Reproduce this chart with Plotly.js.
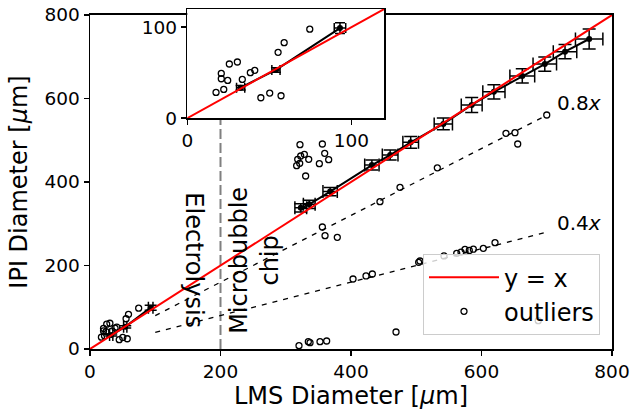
<!DOCTYPE html>
<html>
<head>
<meta charset="utf-8">
<script src="https://cdn.plot.ly/plotly-3.0.1.min.js"></script>
<style>html,body{margin:0;padding:0;background:#fff;}#chart{width:630px;height:410px;}</style>
</head>
<body>
<div id="chart"></div>
<script>
// Mean values (LMS vs IPI) with error bars: electrolysis set
const elecX = [32.5, 54, 93];
const elecY = [33.5, 53, 99];
const elecErrX = [2.5, 2.5, 3.5];
const elecErrY = [2.5, 2.5, 6];
// Mean values: microbubble chip set
const chipX = [323, 336, 368, 432, 460, 491.5, 541.5, 585, 619, 662.5, 697, 728, 765];
const chipY = [338, 346.5, 377, 440.5, 464.5, 495, 539, 584.5, 616, 654, 682.5, 712, 742.5];
const chipErrX = [9, 9, 11, 11, 12, 12, 14, 16, 17, 19, 18, 18, 21];
const chipErrY = [10, 10, 10, 12, 12, 14, 14, 18, 17, 17, 17, 17, 24];

// Outliers
const outX = [17.5, 22.2, 20.7, 20.7, 24.6, 25.6, 30.5, 33.5, 38.4, 41.1, 44.8, 50.2, 57.1, 55.3, 59, 74.6,
  321.8, 356.1, 318.3, 322.9, 328.5, 335.2, 321.4, 316.7, 359.7, 365.8, 351.5, 330.5,
  356.1, 360.2, 379,
  444.4, 475.1, 532.3, 637.5, 651.3, 655.5, 700,
  403.1, 423, 432.7, 503.7, 505.7, 542.5, 562, 568.6, 574.7, 581.3, 587.5, 602.8, 620.7,
  469, 320.3, 334.6, 337.2, 352.5, 362.7, 687];
const outY = [28.3, 31.6, 43.3, 49.2, 41.5, 59.5, 61.7, 42.6, 50, 52.6, 22.4, 27.6, 24.6, 72.4, 83, 97.8,
  489.4, 491, 454.3, 462.3, 466.3, 454.3, 444.7, 439.1, 468.7, 453.5, 443.8, 414.4,
  292.2, 271.4, 267.5,
  352.8, 387.3, 434, 516.6, 518, 491, 560.5,
  167.7, 174.9, 179.6, 207.6, 210.8, 222.8, 229.2, 232, 238.8, 236, 239, 241.2, 254.6,
  40.7, 7.9, 17.5, 15.1, 17.5, 19.2, 67.8];

// Reference lines
const identityX = [0, 800];
const ratioSlopes = [0.8, 0.4];
const ratioLabels = ['0.8<i>x</i>', '0.4<i>x</i>'];
const ratioLabelY = [590, 302.5];
const ratioStart = 100, ratioEnd = 700;
const boundaryX = 200;
const axisTicks = [0, 200, 400, 600, 800];
const insetTicks = [0, 100];

const FONT = 'DejaVu Sans, Liberation Sans, sans-serif';
const traces = [];

// vertical boundary
traces.push({x: [boundaryX, boundaryX], y: [0, 800], mode: 'lines', xaxis: 'x', yaxis: 'y',
  line: {color: '#808080', width: 2, dash: '10px,4px'}, showlegend: false, hoverinfo: 'skip'});
// ratio lines
ratioSlopes.forEach(k => {
  traces.push({x: [ratioStart, ratioEnd], y: [k * ratioStart, k * ratioEnd], mode: 'lines', xaxis: 'x', yaxis: 'y',
    line: {color: 'black', width: 1.3, dash: '5px,6px'}, showlegend: false, hoverinfo: 'skip'});
});

function meanTrace(xs, ys, ex, ey, xa, ya, cap) {
  return {x: xs, y: ys, mode: 'lines+markers', xaxis: xa, yaxis: ya, showlegend: false,
    line: {color: 'black', width: 2}, marker: {size: 6, color: 'black'},
    error_x: {type: 'data', array: ex, visible: true, color: 'black', thickness: 1.5, width: cap},
    error_y: {type: 'data', array: ey, visible: true, color: 'black', thickness: 1.5, width: cap}};
}

function addSet(xa, ya, main) {
  traces.push({x: outX, y: outY, mode: 'markers', xaxis: xa, yaxis: ya, name: 'outliers',
    legendrank: 2, legendgroup: 'o', showlegend: main,
    marker: {symbol: 'circle-open', size: 6, color: 'black', line: {width: 1.3, color: 'black'}}});
  traces.push(meanTrace(elecX, elecY, elecErrX, elecErrY, xa, ya, main ? 6 : 5));
  traces.push(meanTrace(chipX, chipY, chipErrX, chipErrY, xa, ya, main ? 6.5 : 5));
  traces.push({x: identityX, y: identityX, mode: 'lines', xaxis: xa, yaxis: ya, name: 'y = x',
    legendrank: 1, legendgroup: 'r', showlegend: main, line: {color: 'red', width: 2}});
}
addSet('x', 'y', true);
addSet('x2', 'y2', false);

const axBase = {showline: true, mirror: true, linecolor: 'black', linewidth: 1.5, ticks: 'outside',
  ticklen: 5, tickwidth: 1.5, tickcolor: 'black', showgrid: false, zeroline: false,
  tickfont: {family: FONT, size: 18.5, color: 'black'}};

const annotations = ratioSlopes.map((k, i) => ({
  x: 712.6, y: ratioLabelY[i], xref: 'x', yref: 'y', text: ratioLabels[i], showarrow: false,
  xanchor: 'left', yanchor: 'middle', font: {family: FONT, size: 20, color: 'black'}}));
annotations.push({x: 159, y: 213, xref: 'x', yref: 'y', text: 'Electrolysis', textangle: 90, showarrow: false,
  xanchor: 'center', yanchor: 'middle', font: {family: FONT, size: 24, color: 'black'}});
annotations.push({x: 251, y: 213, xref: 'x', yref: 'y', text: 'Microbubble<br>chip', textangle: -90, showarrow: false,
  xanchor: 'center', yanchor: 'middle', font: {family: FONT, size: 24, color: 'black'}});

const layout = {
  width: 630, height: 410,
  margin: {l: 90, r: 18, t: 9, b: 61, pad: 0},
  paper_bgcolor: 'white', plot_bgcolor: 'white',
  font: {family: FONT, color: 'black'},
  xaxis: Object.assign({}, axBase, {domain: [0, 1], range: [0, 800], tickvals: axisTicks,
    title: {text: 'LMS Diameter [<i>μ</i>m]', font: {family: FONT, size: 24, color: 'black'}, standoff: 10}}),
  yaxis: Object.assign({}, axBase, {domain: [0, 0.9824], range: [0, 800], tickvals: axisTicks,
    title: {text: 'IPI Diameter [<i>μ</i>m]', font: {family: FONT, size: 24, color: 'black'}, standoff: 10}}),
  xaxis2: Object.assign({}, axBase, {domain: [0.1864, 0.5638], range: [0, 120], tickvals: insetTicks, anchor: 'y2'}),
  yaxis2: Object.assign({}, axBase, {domain: [0.679, 1], range: [0, 120], tickvals: insetTicks, anchor: 'x2'}),
  legend: {x: 0.977, y: 0.041, xanchor: 'right', yanchor: 'bottom', bgcolor: 'rgba(255,255,255,0.8)',
    bordercolor: '#cccccc', borderwidth: 1, font: {family: FONT, size: 24, color: 'black'},
    itemwidth: 70, tracegroupgap: 4, traceorder: 'normal'},
  annotations: annotations,
  showlegend: true
};

Plotly.newPlot('chart', traces, layout, {displayModeBar: false, staticPlot: true});
</script>
</body>
</html>
